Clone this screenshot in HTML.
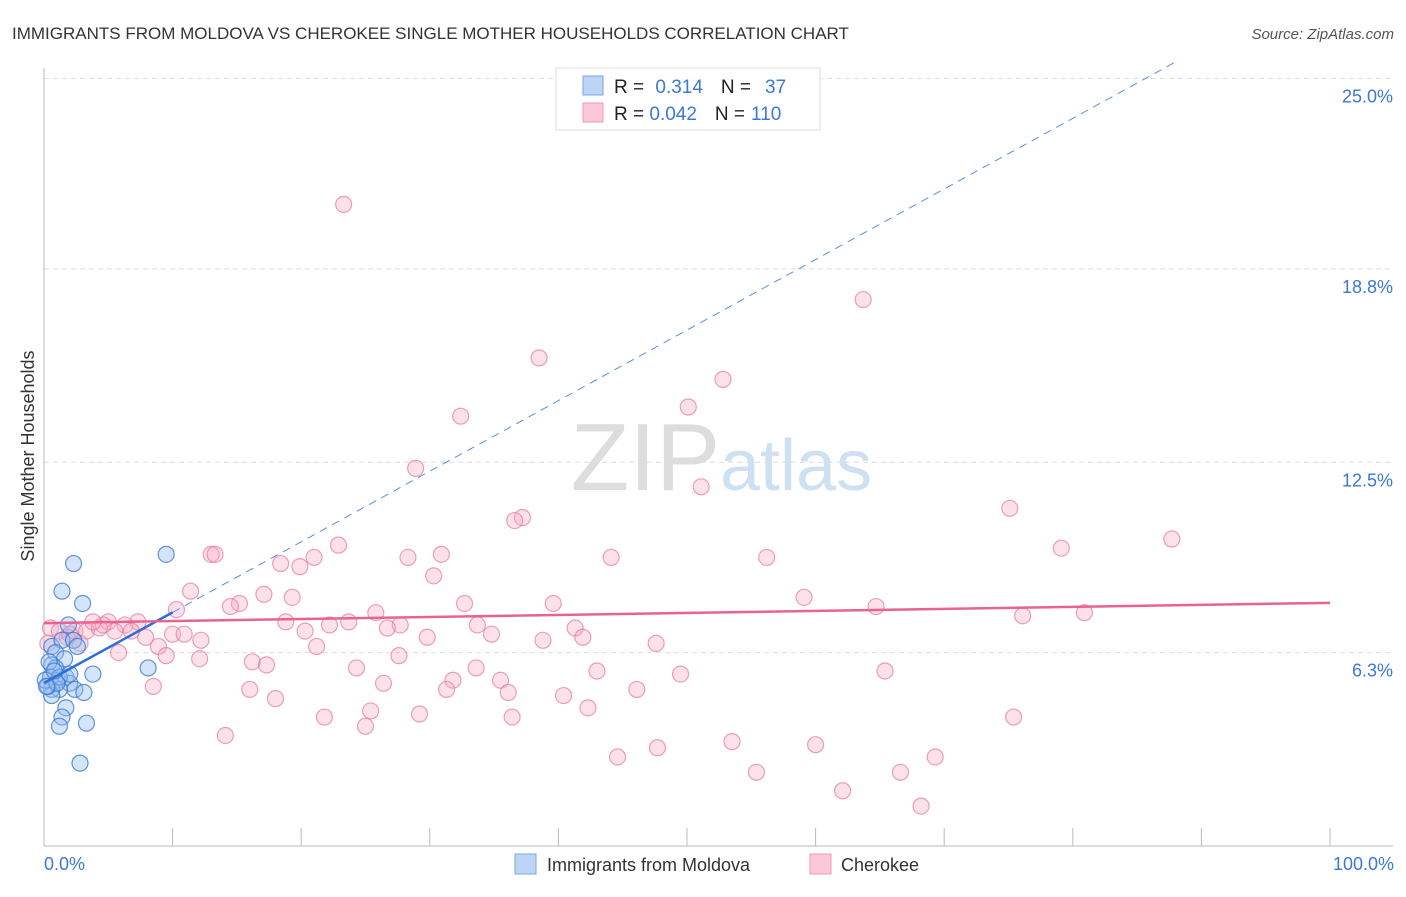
<!DOCTYPE html>
<html><head><meta charset="utf-8"><style>
body{margin:0;background:#fff;font-family:"Liberation Sans",sans-serif}
svg text{font-family:"Liberation Sans",sans-serif}
</style></head><body>
<svg id="chart" width="1406" height="892">
<text x="12" y="39" font-size="17" fill="#333">IMMIGRANTS FROM MOLDOVA VS CHEROKEE SINGLE MOTHER HOUSEHOLDS CORRELATION CHART</text>
<text x="1394" y="39" font-size="15" fill="#555" text-anchor="end" font-style="italic">Source: ZipAtlas.com</text>
<text x="720" y="490" font-size="96" fill="#ddd" text-anchor="end" font-family="Liberation Serif">ZIP</text>
<text x="720" y="490" font-size="72" fill="#cfe0f3">atlas</text>
<g id="grid"></g>
<line x1="44" y1="68" x2="44" y2="846" stroke="#bbb"/>
<line x1="44" y1="846" x2="1393" y2="846" stroke="#bbb"/>
<g id="ticks"></g>
<text transform="translate(34,456) rotate(-90)" font-size="18" fill="#333" text-anchor="middle">Single Mother Households</text>
<text x="44" y="870" font-size="18" fill="#3b78d8">0.0%</text>
<text x="1394" y="870" font-size="18" fill="#3b78d8" text-anchor="end">100.0%</text>
<g id="points"></g>
<g id="lines"></g>
<g>
<rect x="556" y="68" width="264" height="62" fill="#fff" stroke="#ddd"/>
<rect x="583" y="76" width="20" height="19" fill="#bcd4f5" stroke="#7aa6e0"/>
<rect x="583" y="103" width="20" height="19" fill="#fcc8d8" stroke="#ec9ab5"/>
<text x="614" y="93" font-size="19" fill="#222">R = <tspan fill="#3b78d8" dx="6">0.314</tspan><tspan dx="18" fill="#222">N =</tspan><tspan dx="14" fill="#3b78d8">37</tspan></text>
<text x="614" y="120" font-size="19" fill="#222">R = <tspan fill="#3b78d8">0.042</tspan><tspan dx="18" fill="#222">N =</tspan><tspan dx="6" fill="#3b78d8">110</tspan></text>
</g>
<g>
<rect x="515" y="854" width="21" height="20" fill="#bcd4f5" stroke="#7aa6e0"/>
<text x="547" y="871" font-size="18" fill="#333">Immigrants from Moldova</text>
<rect x="810" y="854" width="21" height="20" fill="#fcc8d8" stroke="#ec9ab5"/>
<text x="841" y="871" font-size="18" fill="#333">Cherokee</text>
</g>
</svg>
<script>
const yTicks=[6.3,12.5,18.8,25.0];
const xTickVals=[0,10,20,30,40,50,60,70,80,90,100];
const blueX=[9.5,2.3,1.4,3.0,1.9,0.6,1.4,2.3,0.9,1.6,8.1,3.8,0.6,0.9,0.5,1.1,1.7,2.0,2.4,1.2,0.6,3.1,0.6,0.3,1.7,1.4,1.2,3.3,2.8,1.2,0.1,0.4,2.0,1.0,0.8,2.6,0.2];
const blueY=[9.5,9.2,8.3,7.9,7.2,6.5,6.7,6.7,6.3,6.1,5.8,5.6,5.9,5.8,5.5,5.4,5.5,5.3,5.1,5.1,5.1,5.0,4.9,5.2,4.5,4.2,3.9,4.0,2.7,5.5,5.4,6.0,5.6,5.3,5.7,6.5,5.2];
const pinkX=[23.3,63.7,38.5,52.8,50.1,32.4,28.9,51.1,37.2,36.6,75.1,87.7,79.1,22.9,13.0,13.3,28.3,30.9,44.1,56.2,21.0,18.4,19.9,30.3,11.4,17.1,19.3,59.1,39.6,32.7,15.2,14.5,64.7,10.3,25.8,80.9,76.1,5.0,7.3,6.3,18.8,23.7,22.2,27.7,26.7,33.7,41.3,20.3,0.5,1.2,2.4,3.3,4.3,5.5,7.9,10.0,10.9,12.2,34.8,29.8,41.9,38.8,2.8,47.6,8.9,21.2,5.8,9.5,27.6,12.1,16.2,17.3,24.3,33.6,43.0,65.4,49.5,31.8,35.5,8.5,26.4,31.3,36.1,46.1,16.0,40.4,18.0,42.3,25.4,29.2,21.8,36.4,75.4,25.0,14.1,53.5,60.0,47.7,44.6,69.3,55.4,66.6,62.1,68.2,1.8,0.3,4.6,6.8,2.0,3.8];
const pinkY=[20.9,17.8,15.9,15.2,14.3,14.0,12.3,11.7,10.7,10.6,11.0,10.0,9.7,9.8,9.5,9.5,9.4,9.5,9.4,9.4,9.4,9.2,9.1,8.8,8.3,8.2,8.1,8.1,7.9,7.9,7.9,7.8,7.8,7.7,7.6,7.6,7.5,7.3,7.3,7.2,7.3,7.3,7.2,7.2,7.1,7.2,7.1,7.0,7.1,7.0,7.0,7.0,7.1,7.0,6.8,6.9,6.9,6.7,6.9,6.8,6.8,6.7,6.6,6.6,6.5,6.5,6.3,6.2,6.2,6.1,6.0,5.9,5.8,5.8,5.7,5.7,5.6,5.4,5.4,5.2,5.3,5.1,5.0,5.1,5.1,4.9,4.8,4.5,4.4,4.3,4.2,4.2,4.2,3.9,3.6,3.4,3.3,3.2,2.9,2.9,2.4,2.4,1.8,1.3,6.8,6.6,7.2,7.0,6.9,7.3];
const blueTrend=[5.31,28.3];
const pinkTrend=[7.26,7.92];
const X=v=>44+v*12.86, Y=v=>846-v*30.7;
const NS='http://www.w3.org/2000/svg';
function mk(tag,attrs,parent){const e=document.createElementNS(NS,tag);for(const k in attrs)e.setAttribute(k,attrs[k]);document.getElementById(parent).appendChild(e);return e;}
yTicks.forEach(t=>{
 const l=mk('line',{x1:44,x2:1393,y1:Y(t),y2:Y(t),stroke:'#ddd','stroke-dasharray':'5,4'},'grid');
 
 
 const tx=mk('text',{x:1393,y:Y(t)+24,'font-size':18,fill:'#3b78d8','text-anchor':'end'},'grid');
 tx.textContent=t.toFixed(1)+'%';
 
 
});
xTickVals.forEach(t=>{
 const l=mk('line',{x1:X(t),x2:X(t),y1:828,y2:846,stroke:'#bbb'},'ticks');
 
 
});
pinkX.forEach((x,i)=>{
 const c=mk('circle',{cx:X(x),cy:Y(pinkY[i]),r:8,fill:'rgba(248,170,195,0.35)',stroke:'rgba(230,120,160,0.7)','stroke-width':1.2},'points');
 
 
});
blueX.forEach((x,i)=>{
 const c=mk('circle',{cx:X(x),cy:Y(blueY[i]),r:8,fill:'rgba(150,190,240,0.4)',stroke:'rgba(60,120,210,0.8)','stroke-width':1.2},'points');
 
 
});
const bAt=x=>blueTrend[0]+(blueTrend[1]-blueTrend[0])*x/100;
let l1=mk('line',{x1:X(0),y1:Y(bAt(0)),x2:X(10),y2:Y(bAt(10)),stroke:'#2a6ed8','stroke-width':2.5},'lines');


const xEnd=(25.6-blueTrend[0])/(blueTrend[1]-blueTrend[0])*100;
let l2=mk('line',{x1:X(10),y1:Y(bAt(10)),x2:X(xEnd),y2:Y(bAt(xEnd)),stroke:'#5a8fe0','stroke-width':1,'stroke-dasharray':'8,6'},'lines');


let l3=mk('line',{x1:X(0),y1:Y(pinkTrend[0]),x2:X(100),y2:Y(pinkTrend[1]),stroke:'#e8638f','stroke-width':2.5},'lines');


</script>
</body></html>
